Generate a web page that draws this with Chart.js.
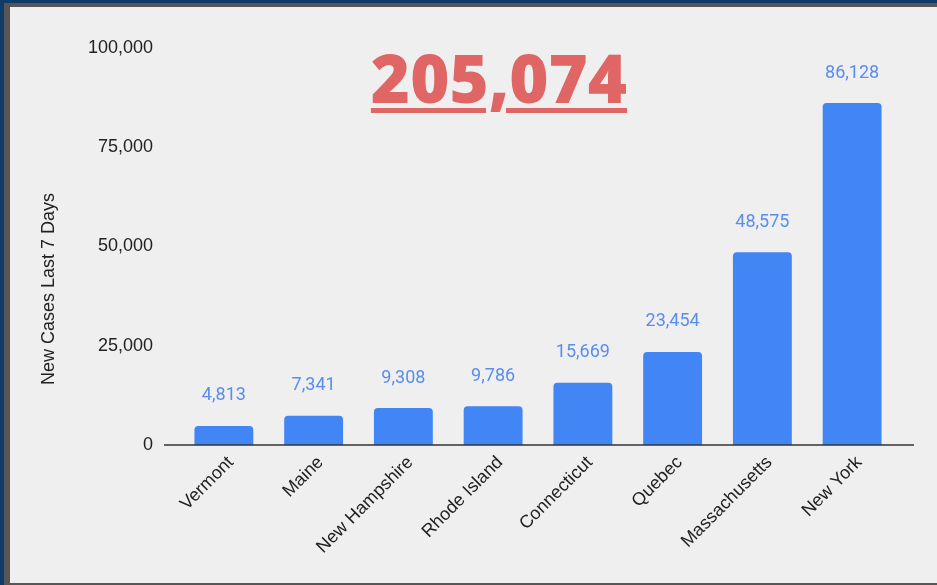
<!DOCTYPE html>
<html>
<head>
<meta charset="utf-8">
<script src="https://cdn.jsdelivr.net/npm/chart.js@4"></script>
<style>
  html, body { margin: 0; padding: 0; background: #0e3b68; }
  #frame { position: absolute; left: 4px; top: 3px; width: 933px; height: 582px; background: #565656; }
  #panel { position: absolute; left: 10px; top: 7px; width: 927px; height: 576px; background: #efefef; }
  #total {
    position: absolute; left: 499px; top: 44px; transform: translateX(-50%);
    font-family: "Open Sans", sans-serif; font-weight: 800; font-size: 67px; line-height: 67px;
    color: #e06666; text-decoration: underline; text-decoration-thickness: 5px; text-underline-offset: 5px;
    white-space: nowrap;
  }
</style>
</head>
<body>
<div id="frame"></div>
<div id="panel"><canvas id="chart" width="927" height="576"></canvas></div>
<div id="total">205,074</div>
<script>
'use strict';

const states = ['Vermont', 'Maine', 'New Hampshire', 'Rhode Island', 'Connecticut', 'Quebec', 'Massachusetts', 'New York'];
const newCases = [4813, 7341, 9308, 9786, 15669, 23454, 48575, 86128];
const yTicks = [0, 25000, 50000, 75000, 100000];
const yTitle = 'New Cases Last 7 Days';

let canvasElem = document.getElementById('chart');

// value labels above each bar + the axis title + a baseline a bit wider than the bars
const extras = {
  id: 'extras',
  afterDatasetsDraw(chart) {
    const ctx = chart.ctx;
    const meta = chart.getDatasetMeta(0);
    const area = chart.chartArea;
    const y0 = chart.scales.y.getPixelForValue(0);

    ctx.save();
    ctx.strokeStyle = '#333';
    ctx.lineWidth = 1.5;
    ctx.beginPath();
    ctx.moveTo(area.left - 15, y0);
    ctx.lineTo(area.right + 17, y0);
    ctx.stroke();

    ctx.fillStyle = '#5a8dee';
    ctx.font = '18px Roboto';
    ctx.textAlign = 'center';
    ctx.textBaseline = 'middle';
    meta.data.forEach((bar, i) => {
      ctx.fillText(newCases[i].toLocaleString('en-US'), bar.x, bar.y - 30);
    });

    ctx.translate(39, chart.height / 2 - 6);
    ctx.rotate(-Math.PI / 2);
    ctx.fillStyle = '#222';
    ctx.font = '18px "Liberation Sans", Arial';
    ctx.fillText(yTitle, 0, 0);
    ctx.restore();
  }
};

new Chart(canvasElem, {
  type: 'bar',
  data: {
    labels: states,
    datasets: [{
      data: newCases,
      backgroundColor: '#4285f4',
      borderRadius: { topLeft: 4, topRight: 4 },
      borderSkipped: 'bottom',
      categoryPercentage: 0.82,
      barPercentage: 0.8
    }]
  },
  options: {
    responsive: false,
    animation: false,
    layout: { padding: { top: 41, right: 40, bottom: 0, left: 0 } },
    plugins: { legend: { display: false }, tooltip: { enabled: false } },
    scales: {
      x: {
        grid: { display: false, drawTicks: false },
        border: { display: false },
        ticks: {
          color: '#222', font: { family: '"Liberation Sans", Arial', size: 18 },
          minRotation: 45, maxRotation: 45, padding: 7, labelOffset: 7, autoSkip: false
        },
        afterFit(scale) { scale.height = 138; }
      },
      y: {
        min: 0, max: 100000,
        grid: { display: false, drawTicks: false },
        border: { display: false },
        afterBuildTicks(scale) { scale.ticks = yTicks.map(v => ({ value: v })); },
        ticks: {
          color: '#222', font: { family: '"Liberation Sans", Arial', size: 18 }, padding: 26,
          callback: v => v.toLocaleString('en-US')
        },
        afterFit(scale) { scale.width = 169; }
      }
    }
  },
  plugins: [extras]
});
</script>
</body>
</html>
